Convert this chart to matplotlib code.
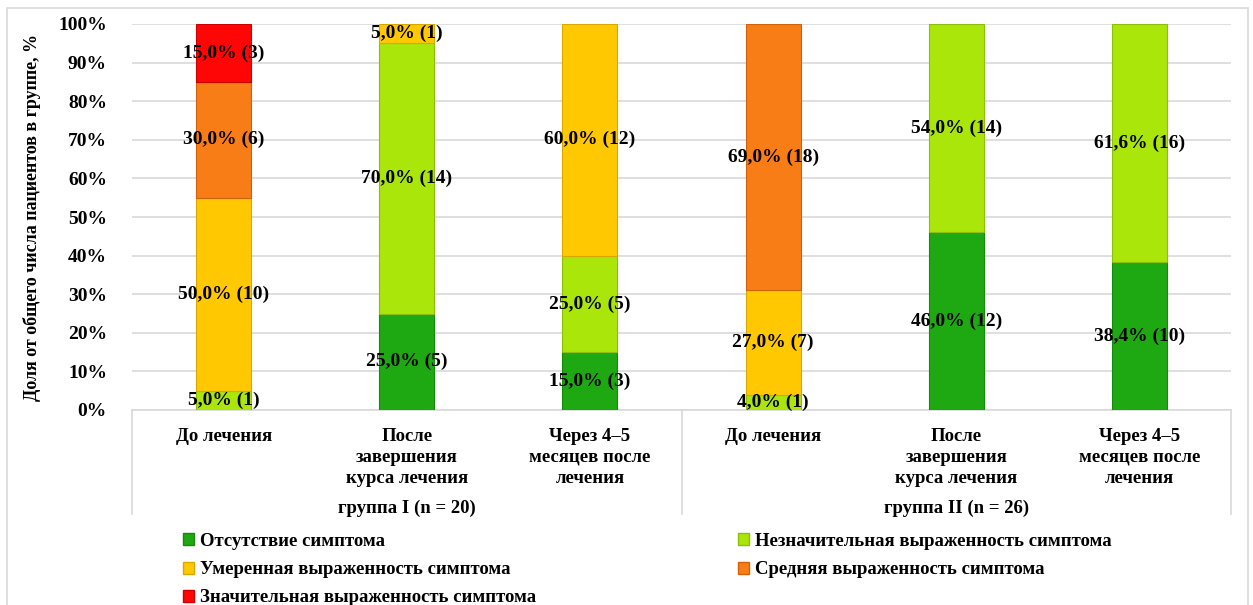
import matplotlib
matplotlib.use("Agg")
import matplotlib.pyplot as plt
from matplotlib.patches import Rectangle, Patch
from matplotlib.transforms import blended_transform_factory

plt.rcParams['font.family'] = ['Liberation Serif', 'DejaVu Serif']
plt.rcParams['font.weight'] = 'bold'

categories = ["До лечения", "После\nзавершения\nкурса лечения", "Через 4–5\nмесяцев после\nлечения",
              "До лечения", "После\nзавершения\nкурса лечения", "Через 4–5\nмесяцев после\nлечения"]
groups = ["группа I (n = 20)", "группа II (n = 26)"]

series_names = ["Отсутствие симптома", "Незначительная выраженность симптома",
                "Умеренная выраженность симптома", "Средняя выраженность симптома",
                "Значительная выраженность симптома"]
absent = [0, 25, 15, 0, 46, 38.4]
slight = [5, 70, 25, 4, 54, 61.6]
moderate = [50, 5, 60, 27, 0, 0]
medium = [30, 0, 0, 69, 0, 0]
severe = [15, 0, 0, 0, 0, 0]

absent_n = [0, 5, 3, 0, 12, 10]
slight_n = [1, 14, 5, 1, 14, 16]
moderate_n = [10, 1, 12, 7, 0, 0]
medium_n = [6, 0, 0, 18, 0, 0]
severe_n = [3, 0, 0, 0, 0, 0]

colors = ["#1ea811", "#abe60a", "#ffc800", "#f97d17", "#ff0606"]
edges = ["#168a0c", "#8cbf08", "#d9a800", "#d0620c", "#cc0000"]

fig = plt.figure(figsize=(12.53, 6.05), dpi=100)
ax = fig.add_axes([132 / 1253, 1 - 410 / 605, (1231 - 132) / 1253, 386 / 605])

x = list(range(len(categories)))
values = [absent, slight, moderate, medium, severe]
counts = [absent_n, slight_n, moderate_n, medium_n, severe_n]
bottom = [0] * len(x)
handles = []
for vals, ns, c, ec, name in zip(values, counts, colors, edges, series_names):
    idx = [i for i in x if vals[i] > 0]
    ax.bar([x[i] for i in idx], [vals[i] for i in idx], width=0.3, bottom=[bottom[i] for i in idx],
           color=c, edgecolor=ec, linewidth=0.8, zorder=3)
    handles.append(Patch(facecolor=c, edgecolor=ec, label=name))
    for i in idx:
        txt = f"{vals[i]:.1f}".replace('.', ',') + f"% ({ns[i]})"
        ax.text(x[i], bottom[i] + vals[i] / 2, txt, ha='center', va='center', fontsize=14,
                fontweight='bold', color='black', zorder=5)
    bottom = [b + v for b, v in zip(bottom, vals)]

ax.set_xlim(-0.5, 5.5)
ax.set_ylim(0, 100)
ax.set_yticks(range(0, 101, 10))
ax.set_yticklabels([f"{t}%" for t in range(0, 101, 10)], fontsize=14, fontweight='bold')
ax.tick_params(axis='y', length=0, pad=18)
ax.set_xticks(x)
ax.set_xticklabels(categories, fontsize=13.5, fontweight='bold', linespacing=1.3)
ax.tick_params(axis='x', length=0, pad=13)
ax.grid(axis='y', color='#d9d9d9', linewidth=1.2, zorder=0)
for s in ['left', 'right', 'top']:
    ax.spines[s].set_visible(False)
ax.spines['bottom'].set_color('#d9d9d9')
ax.spines['bottom'].set_linewidth(1.2)

ax.set_ylabel("Доля от общего числа пациентов в группе, %", fontsize=13, fontweight='bold')
ax.yaxis.set_label_coords(-0.083, 0.5)

tr = blended_transform_factory(ax.transData, ax.transAxes)
for xs in [-0.5, 2.5, 5.5]:
    ax.plot([xs, xs], [0, -0.27], transform=tr, color='#d9d9d9', linewidth=1.2, clip_on=False)
for gi, g in enumerate(groups):
    ax.text(gi * 3 + 1, -0.255, g, transform=tr, ha='center', va='center', fontsize=13.5, fontweight='bold')

leg_kw = dict(loc='upper left', frameon=False, fontsize=13.5, handlelength=0.6, handleheight=0.6,
              handletextpad=0.3, labelspacing=0.6, borderaxespad=0, borderpad=0)
fig.legend(handles=[handles[0], handles[2], handles[4]], bbox_to_anchor=(183 / 1253, 1 - 533 / 605), **leg_kw)
fig.legend(handles=[handles[1], handles[3]], bbox_to_anchor=(738 / 1253, 1 - 533 / 605), **leg_kw)

fig.patches.append(Rectangle((7 / 1253, -0.05), 1241 / 1253, 1.05 - 8 / 605, transform=fig.transFigure,
                             fill=False, edgecolor='#d9d9d9', linewidth=1.2))

fig.savefig("out.png", dpi=100)
